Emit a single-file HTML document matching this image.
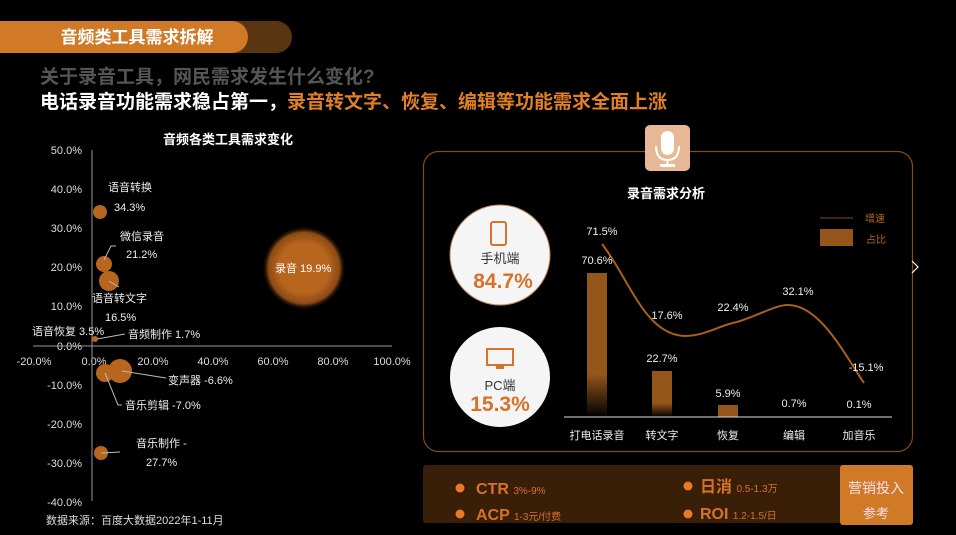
<!DOCTYPE html>
<html><head><meta charset="utf-8"><style>
html,body{margin:0;padding:0;background:#000;width:956px;height:535px;overflow:hidden}
svg{display:block}
text{font-family:"Liberation Sans","Noto Sans CJK SC",sans-serif}
</style></head><body>
<svg width="956" height="535" viewBox="0 0 956 535">
<defs>
<radialGradient id="glow"><stop offset="0.6" stop-color="#b8651e"/><stop offset="0.85" stop-color="#8a4a14"/><stop offset="1" stop-color="#000" stop-opacity="0"/></radialGradient>
<linearGradient id="bar" x1="0" y1="0" x2="0" y2="1"><stop offset="0.7" stop-color="#95561a"/><stop offset="1" stop-color="#000"/></linearGradient>
</defs>
<!-- header -->
<rect x="-20" y="21" width="312" height="32" rx="16" fill="#5a3512"/>
<rect x="-20" y="21" width="268" height="32" rx="16" fill="#d07a28"/>
<text x="137" y="43" fill="#fff" font-size="17" font-weight="bold" text-anchor="middle">音频类工具需求拆解</text>
<text x="40" y="83" fill="#555" font-size="19" font-weight="bold">关于录音工具，网民需求发生什么变化?</text>
<text x="40" y="108" fill="#fff" font-size="19" font-weight="bold">电话录音功能需求稳占第一，<tspan fill="#e07f25">录音转文字、恢复、编辑等功能需求全面上涨</tspan></text>
<!-- left chart -->
<text x="228" y="144" fill="#fff" font-size="13" font-weight="bold" text-anchor="middle">音频各类工具需求变化</text>
<g fill="#ddd" font-size="11" text-anchor="end">
<text x="82" y="154">50.0%</text><text x="82" y="193">40.0%</text><text x="82" y="232">30.0%</text><text x="82" y="271">20.0%</text><text x="82" y="310">10.0%</text><text x="82" y="350">0.0%</text><text x="82" y="389">-10.0%</text><text x="82" y="428">-20.0%</text><text x="82" y="467">-30.0%</text><text x="82" y="506">-40.0%</text>
</g>
<g fill="#ddd" font-size="11" text-anchor="middle">
<text x="34" y="365">-20.0%</text><text x="94" y="365">0.0%</text><text x="153" y="365">20.0%</text><text x="213" y="365">40.0%</text><text x="273" y="365">60.0%</text><text x="333" y="365">80.0%</text><text x="392" y="365">100.0%</text>
</g>
<line x1="92" y1="150" x2="92" y2="501" stroke="#999" stroke-width="1"/>
<line x1="33" y1="346" x2="392" y2="346" stroke="#999" stroke-width="1"/>
<circle cx="304" cy="268" r="42" fill="url(#glow)"/>
<g fill="#b8651e">
<circle cx="100" cy="212" r="7"/><circle cx="104" cy="264" r="8"/><circle cx="109" cy="281" r="10"/>
<circle cx="95" cy="339" r="3"/><circle cx="120" cy="371" r="12"/><circle cx="105" cy="373" r="9"/><circle cx="101" cy="453" r="7"/>
</g>
<g stroke="#bbb" stroke-width="1" fill="none">
<polyline points="104,260 111,246 116,246"/><line x1="109" y1="281" x2="119" y2="287"/><line x1="97" y1="339" x2="125" y2="334"/>
<line x1="122" y1="371" x2="166" y2="378"/><polyline points="105,373 118,405 122,405"/><line x1="101" y1="453" x2="120" y2="452"/>
</g>
<g fill="#eee" font-size="11">
<text x="108" y="191">语音转换</text><text x="114" y="211">34.3%</text>
<text x="120" y="240">微信录音</text><text x="126" y="258">21.2%</text>
<text x="92" y="302">语音转文字</text><text x="105" y="321">16.5%</text>
<text x="32" y="335">语音恢复 3.5%</text><text x="128" y="338">音频制作 1.7%</text>
<text x="168" y="384">变声器 -6.6%</text><text x="125" y="409">音乐剪辑 -7.0%</text>
<text x="136" y="447">音乐制作 -</text><text x="146" y="466">27.7%</text>
<text x="275" y="272" fill="#fff">录音 19.9%</text>
<text x="46" y="524" fill="#ddd">数据来源：百度大数据2022年1-11月</text>
</g>
<!-- right panel -->
<rect x="423.5" y="151.5" width="489" height="300" rx="15" fill="none" stroke="#8a4a14" stroke-width="1.2"/>
<rect x="645" y="125" width="45" height="46" rx="5" fill="#e6b896"/>
<rect x="661" y="131" width="13" height="24" rx="6.5" fill="#fff"/>
<path d="M656 146 Q656 160 667.5 160 Q679 160 679 146" fill="none" stroke="#fff" stroke-width="2"/>
<line x1="667.5" y1="160" x2="667.5" y2="165" stroke="#fff" stroke-width="2"/><rect x="660" y="164" width="15" height="3" fill="#fff"/>
<text x="666" y="198" fill="#fff" font-size="13" font-weight="bold" text-anchor="middle">录音需求分析</text>
<circle cx="500" cy="255" r="50" fill="#f5f5f5" stroke="#c58a5a"/>
<rect x="491" y="222" width="15" height="23" rx="2" fill="none" stroke="#d8712a" stroke-width="2"/>
<text x="500" y="263" fill="#333" font-size="13" text-anchor="middle">手机端</text>
<text x="503" y="288" fill="#d8712a" font-size="21" font-weight="bold" text-anchor="middle">84.7%</text>
<circle cx="500" cy="377" r="50" fill="#f5f5f5"/>
<rect x="487" y="349" width="26" height="16" fill="none" stroke="#d8712a" stroke-width="2"/><rect x="496" y="366" width="8" height="3" fill="#d8712a"/>
<text x="500" y="390" fill="#333" font-size="13" text-anchor="middle">PC端</text>
<text x="500" y="411" fill="#d8712a" font-size="21" font-weight="bold" text-anchor="middle">15.3%</text>
<rect x="587" y="273" width="20" height="144" fill="url(#bar)"/>
<rect x="652" y="371" width="20" height="46" fill="url(#bar)"/>
<rect x="718" y="405" width="20" height="12" fill="#95561a"/>
<line x1="564" y1="417" x2="892" y2="417" stroke="#ddd" stroke-width="1"/>
<path d="M602 244 C630 280 645 335 685 336 C705 336 720 325 737 322 C760 315 775 305 788 305 C820 305 845 355 864 383" fill="none" stroke="#a8601c" stroke-width="2"/>
<g fill="#eee" font-size="11" text-anchor="middle">
<text x="602" y="235">71.5%</text><text x="597" y="264">70.6%</text><text x="667" y="319">17.6%</text><text x="733" y="311">22.4%</text><text x="798" y="295">32.1%</text><text x="866" y="371">-15.1%</text>
<text x="662" y="362">22.7%</text><text x="728" y="397">5.9%</text><text x="794" y="407">0.7%</text><text x="859" y="408">0.1%</text>
<text x="597" y="439">打电话录音</text><text x="662" y="439">转文字</text><text x="728" y="439">恢复</text><text x="794" y="439">编辑</text><text x="859" y="439">加音乐</text>
</g>
<line x1="820" y1="218" x2="853" y2="218" stroke="#8a4a14" stroke-width="1"/>
<rect x="820" y="229" width="33" height="17" fill="#95561a"/>
<text x="875" y="222" fill="#b8651e" font-size="10" text-anchor="middle">增速</text>
<text x="876" y="243" fill="#b8651e" font-size="10" text-anchor="middle">占比</text>
<polyline points="912,261 918,267 912,273" fill="none" stroke="#fff" stroke-width="1.2"/>
<!-- bottom bar -->
<rect x="423" y="465" width="490" height="58" rx="3" fill="#3a1f08"/>
<rect x="840" y="465" width="73" height="60" rx="3" fill="#d07a28"/>
<text x="876" y="493" fill="#fde" font-size="14" text-anchor="middle">营销投入</text>
<text x="876" y="518" fill="#fde" font-size="13" text-anchor="middle">参考</text>
<g fill="#e67a2a"><circle cx="460" cy="488" r="4.5"/><circle cx="460" cy="514" r="4.5"/><circle cx="688" cy="486" r="4.5"/><circle cx="688" cy="514" r="4.5"/></g>
<g fill="#d8712a" font-weight="bold">
<text x="476" y="494" font-size="16">CTR <tspan font-size="10" font-weight="normal">3%-9%</tspan></text>
<text x="476" y="520" font-size="16">ACP <tspan font-size="10" font-weight="normal">1-3元/付费</tspan></text>
<text x="700" y="492" font-size="16">日消 <tspan font-size="10" font-weight="normal">0.5-1.3万</tspan></text>
<text x="700" y="519" font-size="16">ROI <tspan font-size="10" font-weight="normal">1.2-1.5/日</tspan></text>
</g>
</svg>
</body></html>
